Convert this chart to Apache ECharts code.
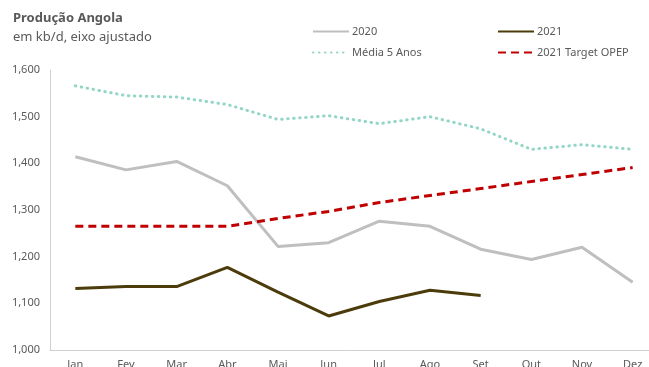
<!DOCTYPE html>
<html>
<head>
<meta charset="utf-8">
<script src="https://cdn.jsdelivr.net/npm/echarts@6/dist/echarts.min.js"></script>
<style>
  html, body { margin: 0; padding: 0; background: #ffffff; }
  #chart { width: 649px; height: 367px; }
</style>
</head>
<body>
<div id="chart"></div>
<script>
// Produção mensal de petróleo de Angola (kb/d)
const months = ['Jan', 'Fev', 'Mar', 'Abr', 'Mai', 'Jun', 'Jul', 'Ago', 'Set', 'Out', 'Nov', 'Dez'];
const prod2020 = [1414, 1386, 1404, 1352, 1222, 1230, 1276, 1265, 1216, 1194, 1220, 1145];
const prod2021 = [1132, 1136, 1136, 1177, 1124, 1073, 1104, 1128, 1117];
const media5Anos = [1566, 1545, 1542, 1526, 1494, 1502, 1485, 1500, 1474, 1430, 1440, 1430];
const targetOpep = [1265, 1265, 1265, 1265, 1282, 1297, 1316, 1331, 1346, 1361, 1376, 1391];
const yTicks = { min: 1000, max: 1600, step: 100 };

const font = 'Noto Sans';
const textGray = '#595959';

const chart = echarts.init(document.getElementById('chart'), null, { renderer: 'canvas' });

function legendAt(name, left, top) {
  return {
    data: [name],
    left: left,
    top: top,
    itemWidth: 36,
    itemHeight: 4,
    itemGap: 4,
    itemStyle: { opacity: 0 },
    textStyle: { fontFamily: font, fontSize: 11, color: textGray, padding: [0, 0, 0, -2] },
    padding: 0
  };
}

chart.setOption({
  animation: false,
  backgroundColor: '#ffffff',
  title: {
    text: 'Produção Angola',
    subtext: 'em kb/d, eixo ajustado',
    left: 13,
    top: 11,
    itemGap: 4,
    padding: 0,
    textStyle: { fontFamily: font, fontSize: 13, fontWeight: 'bold', color: textGray, lineHeight: 15 },
    subtextStyle: { fontFamily: font, fontSize: 13, color: textGray, lineHeight: 15 }
  },
  legend: [
    legendAt('2020', 312, 26),
    legendAt('2021', 497, 26),
    legendAt('Média 5 Anos', 312, 47),
    legendAt('2021 Target OPEP', 497, 47)
  ],
  // the plot runs a little past the right edge of the canvas
  grid: { left: 50, top: 70, width: 608, height: 280, containLabel: false, outerBoundsMode: 'none' },
  xAxis: {
    type: 'category',
    data: months,
    boundaryGap: true,
    axisLine: { lineStyle: { color: '#d0d0d0', width: 1 } },
    axisTick: { show: false },
    axisLabel: { fontFamily: font, fontSize: 11, color: textGray, margin: 9 }
  },
  yAxis: {
    type: 'value',
    min: yTicks.min,
    max: yTicks.max,
    interval: yTicks.step,
    axisLine: { show: true, lineStyle: { color: '#d0d0d0', width: 1 } },
    axisTick: { show: false },
    splitLine: { show: false },
    axisLabel: {
      fontFamily: font, fontSize: 11, color: textGray, margin: 10,
      formatter: v => v.toLocaleString('en-US')
    }
  },
  series: [
    {
      name: '2020', type: 'line', data: prod2020, symbol: 'none',
      lineStyle: { color: '#bfbfbf', width: 3 }, itemStyle: { color: '#bfbfbf' }
    },
    {
      name: '2021', type: 'line', data: prod2021, symbol: 'none',
      lineStyle: { color: '#4d3c0b', width: 3 }, itemStyle: { color: '#4d3c0b' }
    },
    {
      name: 'Média 5 Anos', type: 'line', data: media5Anos, symbol: 'none',
      lineStyle: { color: '#93d6c6', width: 3, type: [0.5, 5.5], cap: 'round' },
      itemStyle: { color: '#93d6c6' }
    },
    {
      name: '2021 Target OPEP', type: 'line', data: targetOpep, symbol: 'none',
      lineStyle: { color: '#c00000', width: 3, type: [8, 5] },
      itemStyle: { color: '#c00000' }
    }
  ]
});
</script>
</body>
</html>
